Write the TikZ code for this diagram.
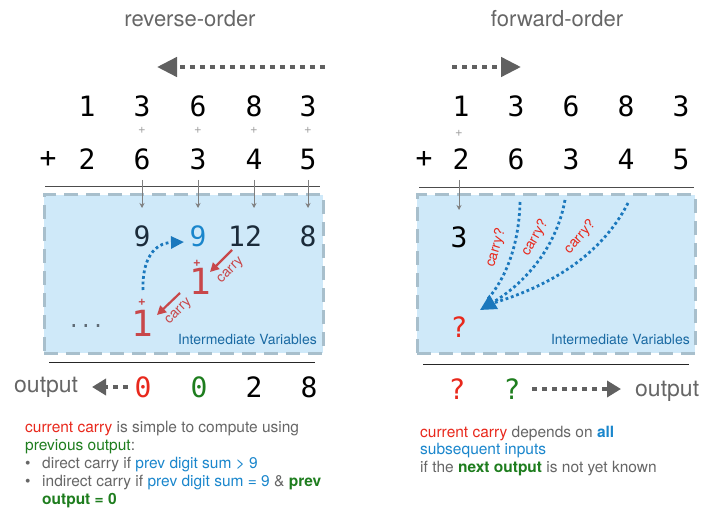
\documentclass[tikz,border=0pt]{standalone}
\usepackage{fontspec}
\setmainfont{TeX Gyre Heros}
\newfontfamily\monof{DejaVu Sans Mono}
\usetikzlibrary{arrows.meta}
\definecolor{tgray}{HTML}{666666}
\definecolor{cred}{HTML}{E8281C}
\definecolor{mred}{HTML}{C8474A}
\definecolor{cgreen}{HTML}{1E7D1E}
\definecolor{cblue}{HTML}{1A86CC}
\definecolor{dblue}{HTML}{1B78BD}
\definecolor{navy}{HTML}{1B2B3A}
\definecolor{boxfill}{HTML}{CFE9F9}
\definecolor{boxdraw}{HTML}{A8BFCC}
\definecolor{ivblue}{HTML}{1A6AA3}
\definecolor{agray}{HTML}{606060}
\begin{document}
\begin{tikzpicture}[x=1pt,y=-1pt,
  dig/.style={font=\monof\fontsize{28}{28}\selectfont, inner sep=0pt},
  bigdig/.style={font=\monof\fontsize{36}{36}\selectfont, inner sep=0pt},
  tiny/.style={font=\fontsize{13}{13}\selectfont, text=gray!75, inner sep=0pt},
  rplus/.style={font=\bfseries\fontsize{13}{13}\selectfont, text=mred, inner sep=0pt},
  title/.style={font=\fontsize{22}{22}\selectfont, text=tgray, inner sep=0pt, anchor=base},
  body/.style={font=\fontsize{15.5}{15.5}\selectfont, text=tgray, inner sep=0pt, anchor=base west},
  ivar/.style={font=\fontsize{14}{14}\selectfont, text=ivblue, inner sep=0pt, anchor=base east},
  vbox/.style={draw=boxdraw, fill=boxfill, line width=3pt, dash pattern=on 14pt off 8pt, inner sep=0pt},
  bigarrow/.style={draw=agray, line width=4.5pt, dash pattern=on 5pt off 5pt, -{Triangle[length=20pt,width=19pt]}},
  smallarrow/.style={draw=agray, line width=4.5pt, dash pattern=on 5pt off 5pt, -{Triangle[length=14pt,width=16pt]}},
  tick/.style={draw=gray, line width=0.8pt, -{Stealth[length=5pt,width=5pt]}},
  carryarrow/.style={draw=mred, line width=2.2pt, -{Triangle[length=9pt,width=9pt]}},
  bluedot/.style={draw=dblue, line width=2.8pt, dash pattern=on 2.8pt off 2.8pt},
  rule/.style={draw=black!70, line width=1pt}
]
\useasboundingbox (0,0) rectangle (704,513);

% ---------------- LEFT: reverse-order ----------------
\node[title] (tL) at (190,26.5) {reverse-order};
\coordinate (raS) at (325,67);
\coordinate (raE) at (157,67);
\draw[bigarrow] (raS) -- (raE);

\foreach \x/\d [count=\i] in {87/1,142/3,198/6,254/8,308/3} \node[dig] (La\i) at (\x,106) {\d};
\foreach \x [count=\i] in {142,198,254,308} \node[tiny] (Lp\i) at (\x,130) {+};
\node[dig] (Lplus) at (48,159) {+};
\foreach \x/\d [count=\i] in {87/2,142/6,198/3,254/4,308/5} \node[dig] (Lb\i) at (\x,159) {\d};

\node[vbox, minimum width=279pt, minimum height=158pt] (boxL) at (183.5,274) {};
\draw[rule] (45,187) coordinate (rl1) -- (320,187) coordinate (rl2);
\foreach \x [count=\i] in {142,198,254,308} {
  \coordinate (Lts\i) at (\x,180);
  \coordinate (Lte\i) at (\x,208);
  \draw[tick] (Lts\i) -- (Lte\i);
}
\node[dig, text=navy] (Li1) at (142,236) {9};
\node[dig, text=cblue] (Li2) at (198,236) {9};
\node[dig, text=navy] (Li3) at (245,236) {12};
\node[dig, text=navy] (Li4) at (308,236) {8};

\node[rplus] (rp1) at (197,263) {+};
\node[bigdig, text=mred] (r1) at (200,281) {1};
\node[rplus] (rp2) at (142,302) {+};
\node[bigdig, text=mred] (r2) at (142,323) {1};

\coordinate (ca1s) at (232,250);
\coordinate (ca1e) at (210,272);
\draw[carryarrow] (ca1s) -- (ca1e);
\node[font=\fontsize{14}{14}\selectfont, text=mred, rotate=45, inner sep=0pt] (cl1) at (231,271) {carry};
\coordinate (ca2s) at (180,293);
\coordinate (ca2e) at (157,315);
\draw[carryarrow] (ca2s) -- (ca2e);
\node[font=\fontsize{14}{14}\selectfont, text=mred, rotate=45, inner sep=0pt] (cl2) at (179,312) {carry};

\coordinate (bcs) at (143,290);
\coordinate (bce) at (184,242);
\draw[bluedot, -{Triangle[length=13pt,width=12pt]}] (bcs) .. controls (142,258) and (155,243) .. (bce);

\node[font=\monof\fontsize{20}{20}\selectfont, text=navy!70, inner sep=0pt] (dots) at (86,326) {...};
\node[ivar] (ivL) at (317,344) {Intermediate Variables};

\draw[rule, draw=black!85] (49,362) coordinate (bl1) -- (315,362) coordinate (bl2);
\node[font=\fontsize{23}{23}\selectfont, text=tgray, inner sep=0pt, anchor=base west] (outL) at (14,392) {output};
\coordinate (oaS) at (128,387);
\coordinate (oaE) at (92,387);
\draw[smallarrow] (oaS) -- (oaE);
\node[dig, text=cred] (Lo1) at (143,387) {0};
\node[dig, text=cgreen] (Lo2) at (199,387) {0};
\node[dig] (Lo3) at (254,387) {2};
\node[dig] (Lo4) at (309,387) {8};

\node[body] (t1) at (25,432) {\textcolor{cred}{current carry} is simple to compute using};
\node[body] (t2) at (25,450) {\textcolor{cgreen}{previous output}:};
\node[body] (b3) at (25,468) {•};
\node[body] (t3) at (42,468) {direct carry if \textcolor{cblue}{prev digit sum > 9}};
\node[body] (b4) at (25,486) {•};
\node[body] (t4) at (42,486) {indirect carry if \textcolor{cblue}{prev digit sum = 9} \& \textcolor{cgreen}{\bfseries prev}};
\node[body] (t5) at (42,504) {\textcolor{cgreen}{\bfseries output = 0}};

% ---------------- RIGHT: forward-order ----------------
\node[title] (tR) at (557,26.5) {forward-order};
\coordinate (faS) at (452,67);
\coordinate (faE) at (521,67);
\draw[bigarrow] (faS) -- (faE);

\foreach \x/\d [count=\i] in {461/1,516/3,571/6,626/8,681/3} \node[dig] (Ra\i) at (\x,106) {\d};
\node[tiny] (Rp1) at (459,133) {+};
\node[dig] (Rplus) at (424,159) {+};
\foreach \x/\d [count=\i] in {461/2,516/6,571/3,626/4,681/5} \node[dig] (Rb\i) at (\x,159) {\d};

\node[vbox, minimum width=278pt, minimum height=158pt] (boxR) at (556,274) {};
\draw[rule] (419,188) coordinate (rr1) -- (694,188) coordinate (rr2);
\coordinate (Rts) at (459,180);
\coordinate (Rte) at (459,210);
\draw[tick] (Rts) -- (Rte);

\node[dig] (Ri1) at (459,237) {3};
\node[dig, text=cred] (Rq) at (459,327) {?};

\coordinate (tip) at (480,310);
\coordinate (c1s) at (520,202);
\coordinate (c2s) at (565,200);
\coordinate (c3s) at (628,203);
\coordinate (c1e) at (487,300);
\coordinate (c3e) at (490,304);
\draw[bluedot] (c1s) .. controls (519,245) and (506,278) .. (c1e);
\draw[bluedot] (c3s) .. controls (600,258) and (545,288) .. (c3e);
\draw[bluedot, -{Triangle[length=16pt,width=16pt]}] (c2s) .. controls (556,250) and (522,285) .. (tip);
\node[font=\fontsize{14}{14}\selectfont, text=cred, rotate=73, inner sep=0pt] (q1) at (496,248) {carry?};
\node[font=\fontsize{14}{14}\selectfont, text=cred, rotate=60, inner sep=0pt] (q2) at (535,238) {carry?};
\node[font=\fontsize{14}{14}\selectfont, text=cred, rotate=48, inner sep=0pt] (q3) at (580,237) {carry?};
\node[ivar] (ivR) at (690,344) {Intermediate Variables};

\draw[rule, draw=black!85] (423,364) coordinate (br1) -- (689,364) coordinate (br2);
\node[dig, text=cred] (Ro1) at (457,389) {?};
\node[dig, text=cgreen] (Ro2) at (512,389) {?};
\coordinate (obS) at (532,389);
\coordinate (obE) at (621,389);
\draw[smallarrow] (obS) -- (obE);
\node[font=\fontsize{23}{23}\selectfont, text=tgray, inner sep=0pt, anchor=base west] (outR) at (635,396) {output};

\node[body] (s1) at (420,437) {\textcolor{cred}{current carry} depends on \textcolor{cblue}{\bfseries all}};
\node[body] (s2) at (420,454) {\textcolor{cblue}{subsequent inputs}};
\node[body] (s3) at (420,472) {if the \textcolor{cgreen}{\bfseries next output} is not yet known};
\end{tikzpicture}
\end{document}
